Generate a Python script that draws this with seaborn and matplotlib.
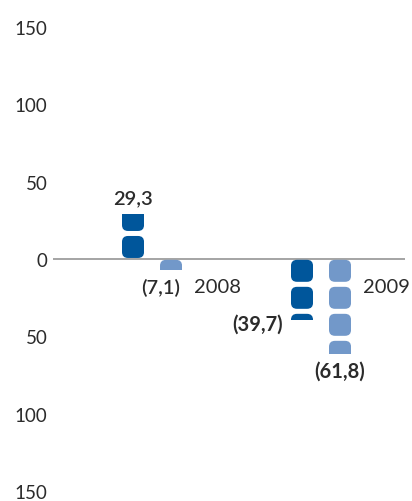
import numpy as np
import pandas as pd
import matplotlib
matplotlib.use("Agg")
import matplotlib.pyplot as plt
from matplotlib.patches import FancyBboxPatch
import seaborn as sns

# data
years = ["2008", "2009"]
dark_values = [29.3, -39.7]
light_values = [-7.1, -61.8]
dark_labels = ["29,3", "(39,7)"]
light_labels = ["(7,1)", "(61,8)"]
y_ticks = [-150, -100, -50, 0, 50, 100, 150]

DARK = "#00569b"
LIGHT = "#7298c9"
TEXT = "#2b2b2b"

df = pd.DataFrame({
    "year": years * 2,
    "value": dark_values + light_values,
    "series": ["dark"] * len(years) + ["light"] * len(years),
})

sns.set_style("white")
plt.rcParams["font.family"] = ["Lato", "DejaVu Sans"]

fig = plt.figure(figsize=(4.12, 5.02), dpi=100)
ax = fig.add_axes([53 / 412, 0, 352 / 412, 1])

sns.barplot(data=df, x="year", y="value", hue="series", order=years,
            hue_order=["dark", "light"], palette=[DARK, LIGHT],
            width=0.45, gap=0.42, legend=False, ax=ax)

ax.set_xlim(-0.586, 1.497)
ax.set_ylim(-156.5, 168.0)

# pictogram blocks clipped to each bar
px_x = 1 / 169.0
px_y = 324.5 / 502
pitch, block = 27 * px_y, 22 * px_y
radius = 6 * px_x
for container, color in zip(ax.containers, [DARK, LIGHT]):
    for bar in container:
        x0, w = bar.get_x(), bar.get_width()
        top = bar.get_y() + bar.get_height()
        v = top if abs(top) > abs(bar.get_y()) else bar.get_y()
        sign = 1 if v > 0 else -1
        bar.set_facecolor("none")
        bar.set_edgecolor("none")
        n = int(np.ceil(abs(v) / pitch))
        for i in range(n):
            start = 0.6 + i * pitch
            y0 = start if sign > 0 else -(start + block)
            p = FancyBboxPatch((x0, y0), w, block,
                               boxstyle=f"round,pad=0,rounding_size={radius}",
                               mutation_aspect=px_y / px_x,
                               facecolor=color, edgecolor="none", zorder=3)
            ax.add_patch(p)
            p.set_clip_path(bar)

ax.axhline(0, color="#8c8c8c", lw=1.1, zorder=2)

# value labels
dark_bars, light_bars = ax.containers[0], ax.containers[1]
b = dark_bars[0]
ax.text(b.get_x() + b.get_width() / 2, dark_values[0] + 5, dark_labels[0],
        ha="center", va="bottom", fontsize=14.5, fontweight="semibold", color=TEXT)
b = light_bars[0]
ax.text(b.get_x() + b.get_width() - 0.01, -18, light_labels[0],
        ha="right", va="center", fontsize=14.5, fontweight="semibold", color=TEXT)
b = dark_bars[1]
ax.text(b.get_x() - 0.045, -42, dark_labels[1],
        ha="right", va="center", fontsize=14.5, fontweight="bold", color=TEXT)
b = light_bars[1]
ax.text(b.get_x() + b.get_width() / 2, light_values[1] - 4, light_labels[1],
        ha="center", va="top", fontsize=14.5, fontweight="bold", color=TEXT)

# category labels next to the bars
for i, year in enumerate(years):
    ax.text(i + 0.25, -18, year, ha="left", va="center",
            fontsize=14.5, color=TEXT)

ax.set_yticks(y_ticks)
ax.set_yticklabels([str(abs(t)) for t in y_ticks], fontsize=13.5, color=TEXT)
ax.tick_params(axis="y", length=0, pad=4)
ax.set_xticks([])
ax.set_xlabel("")
ax.set_ylabel("")
sns.despine(ax=ax, left=True, bottom=True)

fig.savefig("out.png", dpi=100)
